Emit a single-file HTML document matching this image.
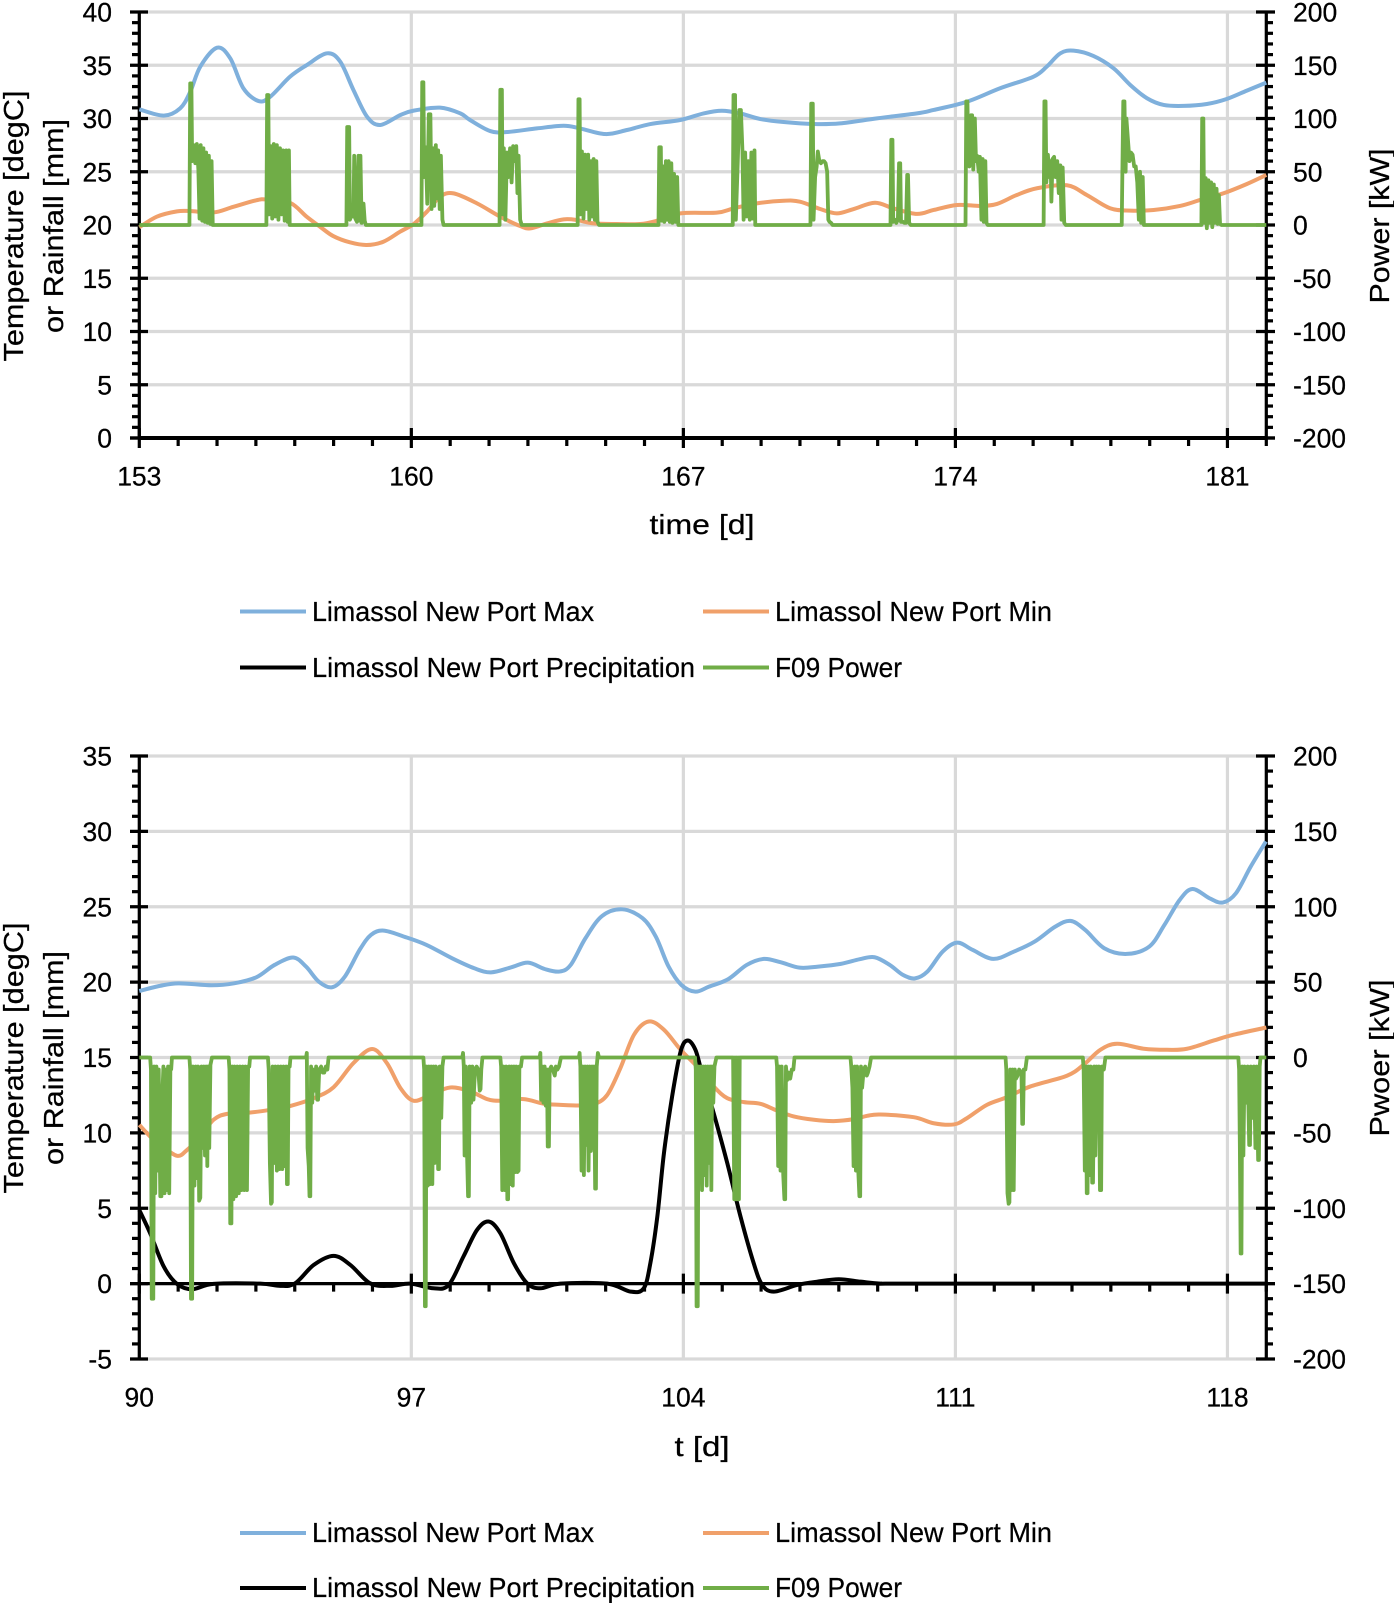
<!DOCTYPE html>
<html lang="en">
<head>
<meta charset="utf-8">
<title>Limassol temperature, rainfall and F09 power</title>
<style>
html,body{margin:0;padding:0;background:#fff;}
svg{display:block;}
text{font-family:"Liberation Sans",sans-serif;fill:#000;stroke:#000;stroke-width:0.25px;}
.title{font-size:28px;}
.legend{font-size:27.5px;}
</style>
</head>
<body>
<svg id="figure" width="1394" height="1603" viewBox="0 0 1394 1603" xmlns="http://www.w3.org/2000/svg">
  <rect width="1394" height="1603" fill="#ffffff"/>
  <g id="chart-top"></g>
  <g id="chart-bottom"></g>

  <g>
    <text class="title" transform="translate(23,226) rotate(-90)" text-anchor="middle" textLength="271" lengthAdjust="spacingAndGlyphs">Temperature [degC]</text>
    <text class="title" transform="translate(63,226) rotate(-90)" text-anchor="middle" textLength="214" lengthAdjust="spacingAndGlyphs">or Rainfall [mm]</text>
    <text class="title" transform="translate(1389,226) rotate(-90)" text-anchor="middle" textLength="155" lengthAdjust="spacingAndGlyphs">Power [kW]</text>
    <text class="title" x="702" y="534" text-anchor="middle" textLength="105" lengthAdjust="spacingAndGlyphs">time [d]</text>
  </g>
  <g>
    <g>
      <line x1="240" x2="306" y1="611.5" y2="611.5" stroke="#7FB0DC" stroke-width="4"/>
      <text class="legend" x="312" y="621" textLength="282" lengthAdjust="spacingAndGlyphs">Limassol New Port Max</text>
    </g>
    <g>
      <line x1="703" x2="769" y1="611.5" y2="611.5" stroke="#F0A06A" stroke-width="4"/>
      <text class="legend" x="775" y="621" textLength="277" lengthAdjust="spacingAndGlyphs">Limassol New Port Min</text>
    </g>
    <g>
      <line x1="240" x2="306" y1="667.5" y2="667.5" stroke="#000000" stroke-width="4"/>
      <text class="legend" x="312" y="677" textLength="383" lengthAdjust="spacingAndGlyphs">Limassol New Port Precipitation</text>
    </g>
    <g>
      <line x1="703" x2="769" y1="667.5" y2="667.5" stroke="#70AD47" stroke-width="4"/>
      <text class="legend" x="775" y="677" textLength="127" lengthAdjust="spacingAndGlyphs">F09 Power</text>
    </g>
  </g>

  <g>
    <text class="title" transform="translate(23,1058) rotate(-90)" text-anchor="middle" textLength="271" lengthAdjust="spacingAndGlyphs">Temperature [degC]</text>
    <text class="title" transform="translate(63,1058) rotate(-90)" text-anchor="middle" textLength="214" lengthAdjust="spacingAndGlyphs">or Rainfall [mm]</text>
    <text class="title" transform="translate(1389,1058) rotate(-90)" text-anchor="middle" textLength="157" lengthAdjust="spacingAndGlyphs">Pwoer [kW]</text>
    <text class="title" x="702" y="1456" text-anchor="middle" textLength="55" lengthAdjust="spacingAndGlyphs">t [d]</text>
  </g>
  <g>
    <g>
      <line x1="240" x2="306" y1="1533" y2="1533" stroke="#7FB0DC" stroke-width="4"/>
      <text class="legend" x="312" y="1542" textLength="282" lengthAdjust="spacingAndGlyphs">Limassol New Port Max</text>
    </g>
    <g>
      <line x1="703" x2="769" y1="1533" y2="1533" stroke="#F0A06A" stroke-width="4"/>
      <text class="legend" x="775" y="1542" textLength="277" lengthAdjust="spacingAndGlyphs">Limassol New Port Min</text>
    </g>
    <g>
      <line x1="240" x2="306" y1="1588" y2="1588" stroke="#000000" stroke-width="4"/>
      <text class="legend" x="312" y="1597" textLength="383" lengthAdjust="spacingAndGlyphs">Limassol New Port Precipitation</text>
    </g>
    <g>
      <line x1="703" x2="769" y1="1588" y2="1588" stroke="#70AD47" stroke-width="4"/>
      <text class="legend" x="775" y="1597" textLength="127" lengthAdjust="spacingAndGlyphs">F09 Power</text>
    </g>
  </g>
</svg>

<script>
/* ---------- June chart data ---------- */
const topLeftTicks = [0,5,10,15,20,25,30,35,40];
const topRightTicks = [-200,-150,-100,-50,0,50,100,150,200];
const topDayTicks = [153,160,167,174,181];

const topMaxDays = [153.0,153.63,154.05,154.31,154.57,155.0,155.34,155.68,156.07,156.37,156.88,157.31,157.83,158.17,158.51,158.86,159.2,159.72,160.06,160.74,161.26,161.51,162.03,162.46,163.23,163.92,164.34,164.99,165.55,166.15,166.92,167.52,167.99,168.46,168.98,169.58,170.35,171.03,171.98,173.01,173.44,174.3,175.15,176.01,176.35,176.7,177.04,177.55,178.07,178.5,178.93,179.36,179.87,180.47,180.98,181.5,182.0];
const topMaxValues = [30.86,30.27,30.95,32.5,34.87,36.65,35.65,32.83,31.64,32.05,33.93,35.02,36.12,35.34,32.68,30.17,29.39,30.33,30.74,31.02,30.48,29.86,28.82,28.73,29.07,29.32,29.07,28.54,28.92,29.48,29.86,30.48,30.73,30.48,29.95,29.67,29.48,29.54,30.01,30.48,30.8,31.58,32.84,33.93,34.87,36.12,36.37,35.87,34.71,33.15,31.9,31.27,31.18,31.36,31.83,32.62,33.37];

const topMinDays = [153.0,153.45,153.97,154.31,154.91,155.42,156.02,156.28,156.88,157.31,157.65,157.99,158.42,158.85,159.28,159.71,160.06,160.4,160.74,161.09,161.69,162.29,162.8,163.06,163.49,163.92,164.26,164.69,165.29,165.89,166.32,166.92,167.86,168.29,168.89,169.58,170.0,170.52,170.95,171.38,171.93,172.41,173.01,173.44,174.04,174.64,175.07,175.58,176.1,176.87,177.38,177.98,178.5,179.1,179.78,180.3,180.9,181.5,182.0];
const topMinValues = [19.78,20.78,21.28,21.31,21.18,21.71,22.33,22.39,22.08,20.77,19.84,18.96,18.37,18.12,18.43,19.37,20.09,21.25,22.66,22.97,22.03,20.78,19.9,19.68,20.15,20.53,20.47,20.15,20.09,20.09,20.4,21.09,21.16,21.56,22.03,22.28,22.19,21.5,21.09,21.5,22.09,21.56,21.04,21.41,21.88,21.79,21.98,22.82,23.45,23.73,22.82,21.57,21.35,21.41,21.79,22.35,22.98,23.85,24.7];

const topRainDays = [153,182];
const topRainValues = [0,0];

const topPowerDays = [153,
154.29,154.31,154.34,154.36,154.40,154.44,154.48,154.52,154.55,154.58,154.62,154.65,154.69,154.72,154.76,154.79,154.83,154.86,154.89,
156.27,156.29,156.32,156.34,156.38,156.42,156.46,156.50,156.54,156.58,156.62,156.66,156.70,156.74,156.78,156.82,156.85,156.87,
158.33,158.35,158.40,158.42,158.47,158.51,158.53,158.56,158.60,158.64,158.67,158.69,158.72,158.74,158.77,158.80,158.83,
160.26,160.28,160.31,160.33,160.37,160.41,160.45,160.49,160.52,160.56,160.59,160.63,160.66,160.69,160.73,160.76,160.80,160.83,
162.27,162.29,162.33,162.35,162.38,162.42,162.46,162.50,162.54,162.58,162.62,162.66,162.70,162.73,162.76,162.80,162.84,
164.28,164.30,164.33,164.35,164.39,164.43,164.47,164.51,164.55,164.58,164.62,164.65,164.69,164.72,164.76,164.79,164.83,
166.36,166.38,166.42,166.44,166.48,166.51,166.55,166.58,166.62,166.65,166.69,166.72,166.76,166.80,166.84,166.87,
168.27,168.29,168.33,168.35,168.40,168.44,168.48,168.52,168.55,168.59,168.63,168.67,168.71,168.75,168.79,168.83,168.85,
170.27,170.29,170.33,170.35,170.39,170.43,170.46,170.50,170.54,170.58,170.62,170.66,170.70,170.73,170.76,170.80,170.84,
172.33,172.35,172.38,172.40,172.44,172.48,172.52,172.55,172.58,172.60,172.65,172.69,172.73,172.76,172.78,172.81,172.85,
174.26,174.28,174.31,174.33,174.36,174.40,174.43,174.46,174.50,174.53,174.56,174.60,174.63,174.67,174.70,174.73,174.77,174.80,174.83,
176.27,176.29,176.32,176.34,176.38,176.42,176.45,176.47,176.50,176.54,176.58,176.62,176.66,176.70,176.73,176.76,176.80,176.84,
178.28,178.30,178.32,178.35,178.38,178.40,178.44,178.48,178.52,178.56,178.60,178.64,178.68,178.72,178.75,178.78,178.82,178.85,
180.33,180.35,180.38,180.40,180.44,180.47,180.51,180.54,180.58,180.61,180.65,180.68,180.72,180.75,180.78,180.81,180.85,
182];
const topPowerValues = [0,
0,133,133,60,75,58,76,52,6,75,4,72,3,68,2,65,1,60,0,
0,122,122,10,74,6,76,8,75,5,72,10,70,4,70,3,70,0,
0,92,92,5,10,8,65,6,3,65,4,65,2,20,20,4,0,
0,134,134,45,73,20,104,104,15,72,18,75,25,70,15,65,5,0,
0,127,127,10,72,5,68,45,72,40,74,60,74,30,65,5,0,
0,118,118,10,69,6,66,15,66,5,60,8,62,5,60,3,0,
0,73,73,4,55,3,60,5,60,3,58,2,48,3,45,0,
0,122,122,5,60,108,108,70,5,68,8,60,5,68,6,70,0,
0,114,114,5,45,55,69,60,58,60,60,58,50,5,3,2,0,
0,80,80,3,5,2,5,58,58,3,3,2,2,47,47,2,0,
0,116,116,65,55,103,103,52,100,60,65,50,64,5,62,3,60,2,0,
0,116,116,40,66,45,60,22,62,64,45,60,30,56,5,54,2,0,
0,60,116,116,50,100,80,60,68,66,55,55,40,5,50,2,45,0,
0,100,100,2,44,-3,42,2,40,-2,38,2,34,1,28,1,0,
0];

/* ---------- April chart data ---------- */
const botLeftTicks = [-5,0,5,10,15,20,25,30,35];
const botRightTicks = [-200,-150,-100,-50,0,50,100,150,200];
const botDayTicks = [90,97,104,111,118];

const botMaxDays = [90.0,90.53,91.01,91.86,92.44,93.01,93.48,93.96,94.29,94.62,94.96,95.29,95.67,95.96,96.29,96.81,97.39,98.05,98.62,99.05,99.57,100.0,100.43,100.81,101.1,101.48,101.91,102.43,102.95,103.29,103.62,103.95,104.31,104.66,105.15,105.63,106.07,106.5,106.99,107.47,108.05,108.54,108.92,109.31,109.65,109.96,110.28,110.67,111.05,111.44,111.97,112.5,113.04,113.57,113.96,114.34,114.83,115.41,115.99,116.38,116.77,117.1,117.54,117.88,118.22,118.6,118.99];
const botMaxValues = [19.41,19.75,19.92,19.79,19.92,20.32,21.14,21.63,21.03,20.03,19.66,20.37,22.14,23.13,23.42,23.02,22.47,21.58,20.92,20.65,20.98,21.29,20.87,20.7,21.14,22.91,24.39,24.83,24.24,23.02,21.03,19.81,19.37,19.7,20.19,21.14,21.54,21.32,20.96,21.03,21.21,21.52,21.65,21.14,20.48,20.25,20.7,22.02,22.62,22.14,21.54,22.02,22.69,23.68,24.06,23.46,22.25,21.87,22.36,23.8,25.45,26.18,25.56,25.28,25.9,27.67,29.33];

const botMinDays = [90.0,90.28,90.54,90.97,91.23,91.57,91.91,92.26,92.86,93.37,93.89,94.49,95.0,95.51,95.99,96.37,96.72,97.06,97.49,98.0,98.52,98.95,99.29,99.89,100.41,100.84,101.35,101.7,102.04,102.38,102.73,103.11,103.5,103.93,104.35,104.78,105.13,105.56,105.98,106.41,106.84,107.36,107.87,108.39,108.73,109.07,109.93,110.44,110.96,111.3,111.81,112.33,112.93,113.87,114.3,114.73,115.16,115.85,116.45,116.96,117.65,118.16,119.0];
const botMinValues = [10.53,9.76,9.21,8.48,8.87,9.76,10.87,11.26,11.35,11.53,11.79,12.3,13.03,14.63,15.56,14.63,12.97,12.13,12.52,13.01,12.75,12.24,12.13,12.24,11.93,11.86,11.82,11.9,12.52,14.3,16.51,17.39,16.84,15.51,14.41,13.08,12.3,12.04,11.93,11.48,11.09,10.87,10.78,10.91,11.13,11.22,11.04,10.64,10.56,10.98,11.86,12.37,13.08,13.79,14.52,15.51,15.91,15.58,15.51,15.58,16.13,16.51,16.99];

const botRainDays = [90.0,90.28,90.63,90.97,91.36,91.91,93.11,93.63,94.01,94.49,95.0,95.43,95.94,96.46,96.97,97.57,97.96,98.34,98.69,98.99,99.29,99.64,99.98,100.32,100.84,102.04,102.64,102.98,103.15,103.33,103.5,103.71,103.93,104.11,104.31,104.48,104.78,105.13,105.47,105.81,106.03,106.33,106.93,107.44,108.0,108.56,109.07,110,119];
const botRainValues = [4.89,3.34,1.13,-0.02,-0.37,-0.02,0,-0.15,0.02,1.24,1.84,1.24,0.02,-0.15,0,-0.31,-0.09,1.79,3.56,4.12,3.34,1.35,0.02,-0.31,0,0,-0.53,-0.31,1.35,4.45,8.65,12.41,15.4,16.13,15.51,13.96,11.31,7.99,4.45,1.35,-0.09,-0.53,-0.09,0.13,0.29,0.13,0,0,0];

const botPowerDays = [90,
90.28,90.30,90.32,90.36,90.38,90.41,90.44,90.47,90.50,90.54,90.57,90.60,90.62,90.65,90.68,90.71,90.74,90.77,90.80,90.82,90.84,
91.29,91.31,91.33,91.36,91.38,91.42,91.45,91.48,91.51,91.54,91.57,91.60,91.63,91.66,91.69,91.72,91.75,91.77,91.80,91.83,91.87,
92.30,92.32,92.34,92.37,92.39,92.42,92.45,92.49,92.52,92.56,92.59,92.63,92.66,92.70,92.73,92.77,92.80,92.83,92.85,
93.31,93.33,93.36,93.39,93.41,93.43,93.47,93.50,93.54,93.57,93.61,93.64,93.68,93.71,93.75,93.78,93.80,93.82,93.84,93.87,93.89,
94.29,94.31,94.33,94.36,94.38,94.40,94.42,94.45,94.48,94.52,94.55,94.58,94.60,94.63,94.68,94.72,94.76,94.80,94.84,94.87,
97.31,97.33,97.35,97.37,97.39,97.42,97.45,97.48,97.51,97.54,97.57,97.60,97.63,97.66,97.69,97.71,97.73,97.77,97.80,97.83,
98.31,98.33,98.35,98.37,98.40,98.43,98.46,98.48,98.50,98.54,98.57,98.60,98.64,98.68,98.72,98.76,98.78,98.80,98.83,
99.29,99.31,99.34,99.37,99.41,99.44,99.47,99.49,99.52,99.55,99.58,99.61,99.64,99.67,99.70,99.73,99.76,99.78,99.82,99.85,
100.30,100.32,100.34,100.37,100.40,100.43,100.46,100.49,100.51,100.54,100.56,100.60,100.64,100.69,100.72,100.76,100.80,100.85,
101.31,101.33,101.35,101.38,101.41,101.44,101.47,101.50,101.53,101.56,101.59,101.62,101.65,101.68,101.70,101.73,101.75,101.77,101.80,101.83,
104.30,104.32,104.34,104.37,104.39,104.42,104.45,104.48,104.51,104.54,104.57,104.60,104.63,104.66,104.69,104.72,104.74,104.77,104.80,104.85,
105.28,105.31,105.33,105.35,105.37,105.39,105.41,105.43,105.45,
106.39,106.41,106.44,106.47,106.50,106.53,106.57,106.60,106.62,106.64,106.67,106.71,106.75,106.79,106.83,106.86,
108.30,108.32,108.35,108.38,108.41,108.44,108.47,108.50,108.53,108.55,108.57,108.60,108.64,108.68,108.72,108.75,108.79,108.83,
112.29,112.31,112.34,112.37,112.39,112.41,112.44,112.47,112.50,112.53,112.56,112.60,112.64,112.70,112.72,112.74,112.76,112.80,112.84,
114.28,114.30,114.33,114.36,114.38,114.40,114.42,114.45,114.48,114.52,114.54,114.57,114.60,114.63,114.66,114.69,114.72,114.75,114.77,114.82,114.86,
118.28,118.30,118.32,118.34,118.36,118.38,118.41,118.44,118.48,118.52,118.56,118.58,118.60,118.64,118.68,118.72,118.75,118.79,118.81,118.83,118.85,
119];
const botPowerValues = [0,
0,-8,-160,-160,-6,-90,-6,-75,-8,-92,-92,-20,-6,-90,-8,-88,-6,-90,-6,-8,0,
0,-8,-160,-160,-6,-85,-6,-80,-6,-95,-93,-6,-60,-6,-65,-6,-72,-6,-60,-5,0,
0,-8,-110,-110,-6,-94,-6,-92,-6,-90,-6,-88,-6,-88,-6,-88,-6,-6,0,
0,-8,-70,-97,-96,-6,-70,-6,-75,-6,-74,-6,-74,-6,-72,-6,-84,-84,-6,-6,0,
0,3,-60,-72,-92,-92,-6,-30,-8,-22,-6,-28,-28,-8,-6,-10,-10,-6,-8,0,
0,-8,-165,-165,-6,-85,-6,-84,-6,-84,-6,-70,-6,-10,-74,-74,-6,-40,-6,0,
0,3,-6,-65,-6,-60,-92,-92,-6,-30,-6,-28,-8,-6,-8,-22,-21,-8,0,
0,-6,-88,-6,-88,-6,-94,-94,-6,-84,-6,-85,-6,-76,-6,-76,-75,-6,-6,0,
0,3,-28,-6,-30,-6,-32,-8,-59,-59,-8,-6,-8,-12,-6,-8,-6,0,
0,3,-6,-75,-6,-78,-6,-58,-6,-75,-6,-62,-6,-60,-6,-87,-87,-6,3,0,
0,-8,-165,-165,-6,-70,-6,-88,-6,-78,-6,-85,-6,-70,-6,-88,-6,-30,-6,0,
0,-94,0,-94,0,-94,0,-94,0,
0,-6,-72,-6,-75,-6,-78,-94,-94,-6,-15,-10,-14,-8,-8,0,
0,-6,-20,-72,-6,-75,-6,-75,-92,-92,-6,-20,-8,-6,-12,-10,-6,0,
0,-8,-90,-97,-96,-8,-88,-8,-88,-8,-14,-12,-8,-10,-44,-44,-8,-8,0,
0,-8,-75,-6,-90,-90,-6,-78,-6,-83,-83,-6,-65,-6,-35,-6,-88,-88,-6,-8,0,
0,-8,-60,-130,-130,-6,-65,-6,-30,-6,-58,-58,-6,-40,-6,-60,-6,-68,-68,-6,0,
0];

/* ---------- drawing ---------- */
const SVG_NS = 'http://www.w3.org/2000/svg';

function linearScale(d0, d1, r0, r1) {
  return function (v) { return r0 + (v - d0) * (r1 - r0) / (d1 - d0); };
}
function smoothPath(xs, ys) {
  let d = 'M' + xs[0].toFixed(2) + ' ' + ys[0].toFixed(2);
  for (let i = 0; i < xs.length - 1; i++) {
    const a = Math.max(i - 1, 0), b = i + 1, c = Math.min(i + 2, xs.length - 1);
    const c1x = xs[i] + (xs[b] - xs[a]) / 6, c1y = ys[i] + (ys[b] - ys[a]) / 6;
    const c2x = xs[b] - (xs[c] - xs[i]) / 6, c2y = ys[b] - (ys[c] - ys[i]) / 6;
    d += 'C' + c1x.toFixed(2) + ' ' + c1y.toFixed(2) + ' ' + c2x.toFixed(2) + ' ' + c2y.toFixed(2) + ' ' + xs[b].toFixed(2) + ' ' + ys[b].toFixed(2);
  }
  return d;
}
function addLine(parent, x1, y1, x2, y2, color, width) {
  const el = document.createElementNS(SVG_NS, 'line');
  el.setAttribute('x1', x1);
  el.setAttribute('y1', y1);
  el.setAttribute('x2', x2);
  el.setAttribute('y2', y2);
  el.setAttribute('stroke', color);
  el.setAttribute('stroke-width', width);
  parent.appendChild(el);
  return el;
}
function addLabel(parent, x, y, anchor, label) {
  const el = document.createElementNS(SVG_NS, 'text');
  el.setAttribute('x', x);
  el.setAttribute('y', y);
  el.setAttribute('text-anchor', anchor);
  el.setAttribute('font-size', '26.5');
  el.textContent = String(label);
  parent.appendChild(el);
  return el;
}
function addCurve(parent, d, color, width) {
  const el = document.createElementNS(SVG_NS, 'path');
  el.setAttribute('d', d);
  el.setAttribute('fill', 'none');
  el.setAttribute('stroke', color);
  el.setAttribute('stroke-width', width);
  el.setAttribute('stroke-linejoin', 'round');
  parent.appendChild(el);
  return el;
}

function drawChart(root, c) {
  const xOf = linearScale(c.dayMin, c.dayMax, 139.3, 1266.3);
  const yL = linearScale(c.leftMin, c.leftMax, c.yBottom, c.yTop);
  const yR = linearScale(c.rightMin, c.rightMax, c.yBottom, c.yTop);
  const yAxisX = yL(c.xAxisAt);

  const grid = document.createElementNS(SVG_NS, 'g');
  
  
  root.appendChild(grid);
  c.leftTicks.forEach(function (v) {
    const ln = addLine(grid, xOf(c.dayMin), yL(v), xOf(c.dayMax), yL(v), '#D9D9D9', 3.2);
    
    
  });
  c.dayTicks.forEach(function (v) {
    const ln = addLine(grid, xOf(v), c.yTop, xOf(v), c.yBottom, '#D9D9D9', 3.2);
    
    
  });

  const axes = document.createElementNS(SVG_NS, 'g');
  
  
  root.appendChild(axes);

  const la = addLine(axes, 139.3, c.yTop - 1.5, 139.3, c.yBottom + 1.5, '#000', 3.2);
  
  
  const ra = addLine(axes, 1266.3, c.yTop - 1.5, 1266.3, c.yBottom + 1.5, '#000', 3.2);
  
  
  const xa = addLine(axes, 130, yAxisX, 1275, yAxisX, '#000', 3.2);
  
  

  /* left ticks */
  for (let v = c.leftMin; v < c.leftMax; v += 1) {
    if ((v - c.leftMin) % 5 !== 0) {
      const m = addLine(axes, 132, yL(v), 139, yL(v), '#000', 3.2);
      
      
    }
  }
  c.leftTicks.forEach(function (v) {
    const t = addLine(axes, 130, yL(v), 148, yL(v), '#000', 3.2);
    
    
    const l = addLabel(axes, 112, yL(v) + 9.5, 'end', v);
    
    
  });

  /* right ticks */
  for (let v = c.rightMin; v < c.rightMax; v += c.rightMinorStep) {
    if ((v - c.rightMin) % 50 !== 0) {
      const m = addLine(axes, 1266, yR(v), 1273, yR(v), '#000', 3.2);
      
      
    }
  }
  c.rightTicks.forEach(function (v) {
    const t = addLine(axes, 1256, yR(v), 1275, yR(v), '#000', 3.2);
    
    
    const l = addLabel(axes, 1293, yR(v) + 9.5, 'start', v);
    
    
  });

  /* x ticks */
  for (let v = c.dayMin; v <= c.dayMax; v += 1) {
    if ((v - c.dayMin) % 7 !== 0) {
      const m = addLine(axes, xOf(v), yAxisX, xOf(v), yAxisX + 8, '#000', 3.2);
      
      
    }
  }
  c.dayTicks.forEach(function (v) {
    const t = addLine(axes, xOf(v), yAxisX - 10, xOf(v), yAxisX + 10, '#000', 3.2);
    
    
    const l = addLabel(axes, xOf(v), c.xLabelY, 'middle', v);
    
    
  });

  /* series */
  const maxLine = addCurve(root, smoothPath(c.maxDays.map(xOf), c.maxValues.map(yL)), '#7FB0DC', 4);
  
  

  const minLine = addCurve(root, smoothPath(c.minDays.map(xOf), c.minValues.map(yL)), '#F0A06A', 4);
  
  

  const rainLine = addCurve(root, smoothPath(c.rainDays.map(xOf), c.rainValues.map(yL)), '#000000', 4);
  
  

  let powerD = '';
  c.powerDays.forEach(function (d, i) {
    powerD += (i ? 'L' : 'M') + xOf(d).toFixed(2) + ' ' + yR(c.powerValues[i]).toFixed(2);
  });
  const powerLine = addCurve(root, powerD, '#70AD47', 3.8);
  
  
}

drawChart(document.getElementById('chart-top'), {
  dayMin: 153, dayMax: 182, leftMin: 0, leftMax: 40, rightMin: -200, rightMax: 200, rightMinorStep: 10,
  yTop: 12, yBottom: 438, xAxisAt: 0, xLabelY: 485.5,
  leftTicks: topLeftTicks, rightTicks: topRightTicks, dayTicks: topDayTicks,
  maxDays: topMaxDays, maxValues: topMaxValues,
  minDays: topMinDays, minValues: topMinValues,
  rainDays: topRainDays, rainValues: topRainValues,
  powerDays: topPowerDays, powerValues: topPowerValues
});
drawChart(document.getElementById('chart-bottom'), {
  dayMin: 90, dayMax: 119, leftMin: -5, leftMax: 35, rightMin: -200, rightMax: 200, rightMinorStep: 10,
  yTop: 756, yBottom: 1359, xAxisAt: 0, xLabelY: 1406.5,
  leftTicks: botLeftTicks, rightTicks: botRightTicks, dayTicks: botDayTicks,
  maxDays: botMaxDays, maxValues: botMaxValues,
  minDays: botMinDays, minValues: botMinValues,
  rainDays: botRainDays, rainValues: botRainValues,
  powerDays: botPowerDays, powerValues: botPowerValues
});
</script>
</body>
</html>
